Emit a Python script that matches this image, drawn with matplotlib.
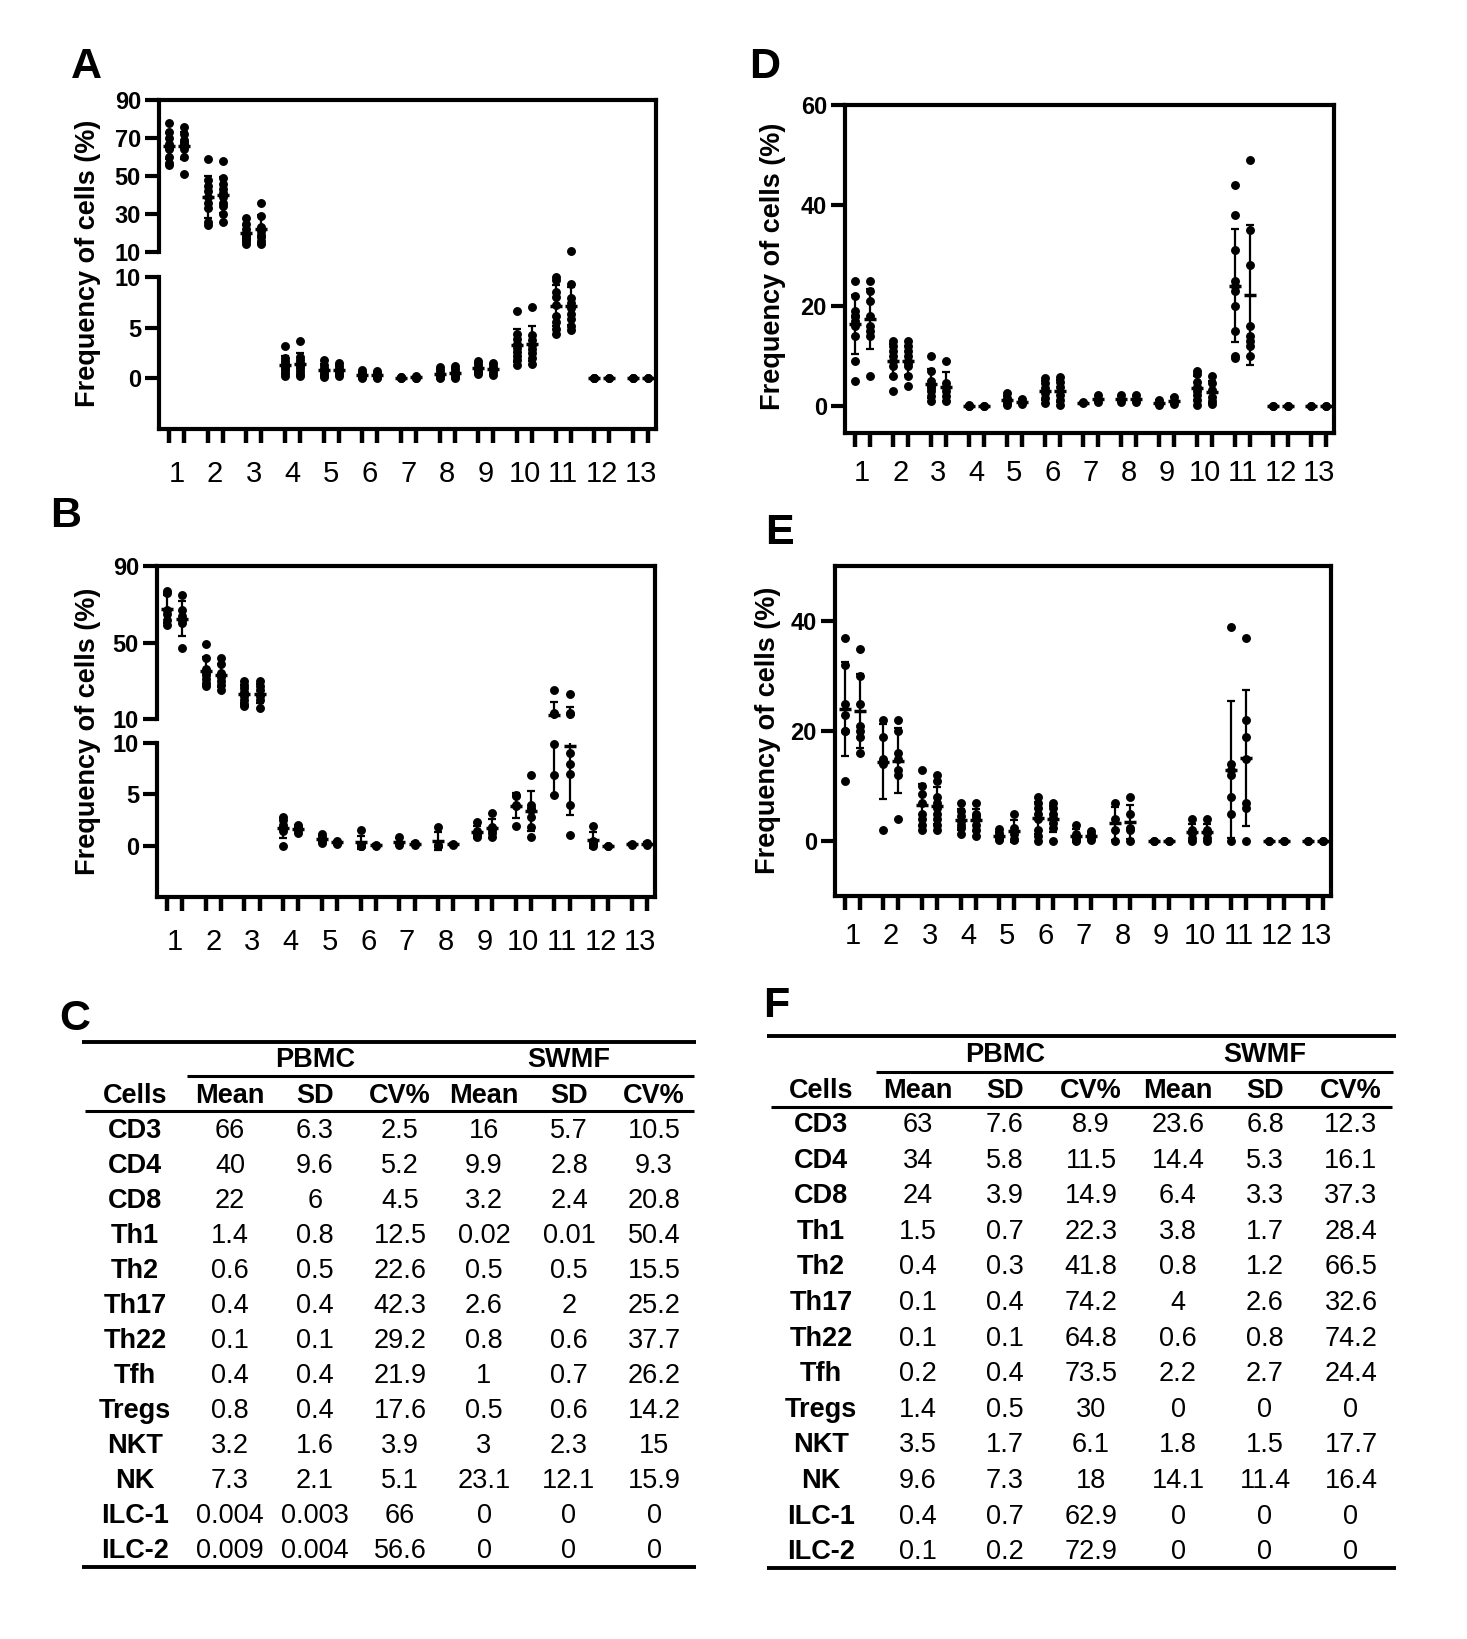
import numpy as np
import matplotlib
matplotlib.use("Agg")
import matplotlib.pyplot as plt

plt.rcParams['font.family'] = ['Liberation Sans', 'DejaVu Sans']

W, H = 1467, 1639

groups = list(range(1, 14))

# ---- panel A : two columns per population (values in %) ----
a_left = [
    [78, 73, 70, 67, 66, 65, 64, 60, 57, 56],
    [59, 48, 45, 42, 39, 36, 33, 26, 24],
    [28, 25, 22, 20, 19, 18, 17, 16, 14],
    [3.2, 2.0, 1.7, 1.4, 1.2, 1.0, 0.8, 0.5, 0.2],
    [1.8, 1.3, 1.0, 0.8, 0.5, 0.3, 0.1],
    [0.8, 0.6, 0.4, 0.2, 0.1, 0.05],
    [0.15, 0.1, 0.05, 0.02],
    [1.1, 0.8, 0.5, 0.3, 0.1, 0.05],
    [1.7, 1.4, 1.1, 0.8, 0.6, 0.4],
    [6.6, 4.4, 3.9, 3.4, 3.0, 2.6, 2.2, 1.8, 1.3],
    [10.0, 9.7, 8.5, 8.0, 7.2, 6.2, 5.6, 4.9, 4.4],
    [0.02, 0.01, 0.0],
    [0.02, 0.01, 0.0],
]
a_right = [
    [76, 72, 69, 68, 67, 66, 64, 60, 51],
    [58, 49, 46, 43, 41, 39, 36, 34, 30, 26],
    [36, 29, 23, 21, 19, 18, 16, 14],
    [3.7, 2.1, 1.8, 1.5, 1.2, 1.0, 0.7, 0.4, 0.2],
    [1.5, 1.2, 0.9, 0.6, 0.4, 0.2],
    [0.7, 0.5, 0.3, 0.1, 0.05],
    [0.2, 0.1, 0.05, 0.02],
    [1.2, 0.9, 0.6, 0.3, 0.1, 0.05],
    [1.5, 1.2, 0.9, 0.6, 0.3],
    [7.0, 4.3, 3.8, 3.3, 2.9, 2.5, 2.0, 1.4],
    [10.5, 9.3, 7.9, 7.4, 6.9, 6.3, 5.9, 5.2, 4.8],
    [0.01, 0.0],
    [0.01, 0.0],
]

# ---- panel B ----
b_left = [
    [77, 76, 67, 65, 62, 59],
    [49, 42, 36, 34, 33, 31, 29, 27],
    [30, 28, 26, 24, 22, 20, 18, 17],
    [2.8, 2.5, 2.0, 1.7, 1.4, 0.0],
    [1.1, 0.8, 0.5, 0.3],
    [1.5, 0.1, 0.0, 0.0, 0.0],
    [0.8, 0.3, 0.1],
    [1.8, 0.1, 0.0, 0.0],
    [2.3, 1.4, 1.2, 1.0, 0.8],
    [4.9, 4.8, 4.0, 3.9, 1.9],
    [25, 13, 12.5, 9.9, 6.9, 4.9],
    [1.9, 0.5, 0.3, 0.2, 0.0],
    [0.2, 0.1],
]
b_right = [
    [75, 67, 64, 62, 60, 47],
    [42, 39, 34, 32, 30, 28, 25],
    [30, 27, 25, 22, 20, 16],
    [2.0, 1.8, 1.5, 1.2],
    [0.5, 0.3, 0.2],
    [0.1, 0.0],
    [0.3, 0.1],
    [0.2, 0.1],
    [3.2, 1.8, 1.5, 1.2, 0.8],
    [6.9, 4.0, 3.7, 3.5, 2.8, 1.8, 0.8],
    [23, 13, 12.5, 9, 8, 7, 4, 1],
    [0.0, 0.0],
    [0.3, 0.1],
]

# ---- panel D ----
d_left = [
    [25, 22, 19, 18, 18, 17, 16, 14, 9, 5],
    [13, 12, 11, 10, 9, 8, 6, 3],
    [10, 7, 5, 4, 3.5, 3, 2, 1],
    [0.1, 0.05, 0.0],
    [2.5, 1.5, 1.0, 0.5, 0.2],
    [5.5, 4.5, 3.5, 2.5, 1.5, 0.5],
    [0.8, 0.5],
    [2.1, 1.3, 0.8],
    [1.2, 0.5, 0.2],
    [7, 6.3, 4.8, 3.8, 3, 2.1, 1.1, 0.2],
    [44, 38, 31, 25, 24, 23, 20, 15, 10, 9.5],
    [0.0, 0.0],
    [0.0, 0.0],
]
d_right = [
    [25, 23, 21, 18, 16, 15, 14, 6],
    [13, 12, 11, 10, 9, 8.5, 8, 6, 4],
    [9, 4.5, 3.7, 3, 2, 1],
    [0.05, 0.0],
    [1.3, 0.8, 0.3],
    [5.8, 4.8, 3.8, 2.1, 1.1, 0.1],
    [2.1, 1.3, 0.8],
    [2.1, 1.3, 0.8],
    [1.8, 1.0, 0.4],
    [6, 4.5, 3.1, 1.8, 1, 0.3],
    [49, 35, 28, 16, 14, 13, 12, 10],
    [0.0, 0.0],
    [0.0, 0.0],
]

# ---- panel E ----
e_left = [
    [37, 32, 25, 23, 20, 20, 11],
    [22, 19, 15, 14.5, 14, 2],
    [13, 10, 8.5, 7, 5, 4, 3, 2],
    [7, 5.5, 4.5, 3.6, 3, 2.4, 1.2],
    [2.1, 1.5, 1.0, 0.6, 0.3, 0.1],
    [8, 7, 6, 5, 4, 2, 1, 0.0],
    [2.9, 1.2, 0.6, 0.2, 0.0],
    [7, 4, 2, 0],
    [0, 0],
    [4, 2, 1.5, 0.5, 0],
    [39, 14, 13, 12, 8, 5, 0],
    [0, 0],
    [0, 0],
]
e_right = [
    [35, 30, 25, 21, 20, 19, 16],
    [22, 20, 16, 15, 13, 12, 4],
    [12, 11, 8, 7, 6, 5, 4, 3, 2],
    [7, 5, 4.5, 4, 3, 2, 1],
    [5, 2.4, 1.2, 0.3, 0.1],
    [7, 6, 5, 4.2, 3.3, 2.4, 0],
    [1.9, 1.2, 0.6, 0.2],
    [8, 5, 2.4, 2, 0],
    [0, 0],
    [4, 2, 1.5, 0.5, 0],
    [37, 22, 19, 15, 7, 6, 0],
    [0, 0],
    [0, 0],
]

# ---- tables C and F ----
cells = ["CD3", "CD4", "CD8", "Th1", "Th2", "Th17", "Th22", "Tfh", "Tregs",
         "NKT", "NK", "ILC-1", "ILC-2"]
col_heads = ["Cells", "Mean", "SD", "CV%", "Mean", "SD", "CV%"]

c_pbmc_mean = ["66", "40", "22", "1.4", "0.6", "0.4", "0.1", "0.4", "0.8", "3.2", "7.3", "0.004", "0.009"]
c_pbmc_sd = ["6.3", "9.6", "6", "0.8", "0.5", "0.4", "0.1", "0.4", "0.4", "1.6", "2.1", "0.003", "0.004"]
c_pbmc_cv = ["2.5", "5.2", "4.5", "12.5", "22.6", "42.3", "29.2", "21.9", "17.6", "3.9", "5.1", "66", "56.6"]
c_swmf_mean = ["16", "9.9", "3.2", "0.02", "0.5", "2.6", "0.8", "1", "0.5", "3", "23.1", "0", "0"]
c_swmf_sd = ["5.7", "2.8", "2.4", "0.01", "0.5", "2", "0.6", "0.7", "0.6", "2.3", "12.1", "0", "0"]
c_swmf_cv = ["10.5", "9.3", "20.8", "50.4", "15.5", "25.2", "37.7", "26.2", "14.2", "15", "15.9", "0", "0"]

f_pbmc_mean = ["63", "34", "24", "1.5", "0.4", "0.1", "0.1", "0.2", "1.4", "3.5", "9.6", "0.4", "0.1"]
f_pbmc_sd = ["7.6", "5.8", "3.9", "0.7", "0.3", "0.4", "0.1", "0.4", "0.5", "1.7", "7.3", "0.7", "0.2"]
f_pbmc_cv = ["8.9", "11.5", "14.9", "22.3", "41.8", "74.2", "64.8", "73.5", "30", "6.1", "18", "62.9", "72.9"]
f_swmf_mean = ["23.6", "14.4", "6.4", "3.8", "0.8", "4", "0.6", "2.2", "0", "1.8", "14.1", "0", "0"]
f_swmf_sd = ["6.8", "5.3", "3.3", "1.7", "1.2", "2.6", "0.8", "2.7", "0", "1.5", "11.4", "0", "0"]
f_swmf_cv = ["12.3", "16.1", "37.3", "28.4", "66.5", "32.6", "74.2", "24.4", "0", "17.7", "16.4", "0", "0"]

XLIM = (0.55, 13.4)
OFF = 0.195
SPINE_LW = 3
YLABEL = "Frequency of cells (%)"

fig = plt.figure(figsize=(W / 100, H / 100), dpi=100)


def rect(x0, y0, x1, y1):
    """pixel box (top-left origin) -> figure fraction"""
    return [x0 / W, 1 - y1 / H, (x1 - x0) / W, (y1 - y0) / H]


def columns(g):
    return (g - OFF, g + OFF)


def plot_cols(ax, left, right, keep=None):
    ylo, yhi = ax.get_ylim()
    for g, lv, rv in zip(groups, left, right):
        for x, vals in zip(columns(g), (lv, rv)):
            v = np.asarray(vals, float)
            m, sd = v.mean(), v.std(ddof=1)
            # only draw the parts of the error bar that reach into this axis
            if m + sd > ylo + 0.5 and m - sd < yhi:
                ax.errorbar([x], [m], yerr=[sd], fmt='none', ecolor='black',
                            elinewidth=1.6, capsize=3, capthick=1.6, zorder=3)
            if ylo < m < yhi:
                ax.plot([x], [m], marker='_', ms=8, mew=2.5, color='black', zorder=4)
            pts = v if keep is None else v[keep(v)]
            ax.plot(np.full(len(pts), x), pts, 'o', ms=5.4, color='black',
                    zorder=5, clip_on=keep is None)


def style_xaxis(ax, pad):
    ax.set_xlim(*XLIM)
    ax.set_xticks([x for g in groups for x in columns(g)])
    ax.set_xticklabels([])
    ax.set_xticks(groups, [str(g) for g in groups], minor=True, fontsize=21)
    ax.tick_params(axis='x', which='major', length=10, width=3.2, direction='out')
    ax.tick_params(axis='x', which='minor', length=0, pad=pad)


def style_yaxis(ax, lim, ticks):
    ax.set_ylim(*lim)
    ax.set_yticks(ticks)
    ax.tick_params(axis='y', length=10, width=3, pad=3, labelsize=17)
    for t in ax.get_yticklabels():
        t.set_fontweight('bold')


def simple_panel(box, left, right, lim, ticks):
    ax = fig.add_axes(rect(*box))
    for s in ax.spines.values():
        s.set_linewidth(SPINE_LW)
    style_xaxis(ax, 19)
    style_yaxis(ax, lim, ticks)
    plot_cols(ax, left, right)
    return ax


def broken_panel(box, split, left, right, hi_ticks, lo_ticks):
    x0, y0, x1, y1 = box
    s_hi, s_lo = split
    frame = fig.add_axes(rect(*box))
    frame.set_ylim(0, 1)
    frame.set_yticks([])
    frame.spines['left'].set_visible(False)
    for s in ('top', 'right', 'bottom'):
        frame.spines[s].set_linewidth(SPINE_LW)
    style_xaxis(frame, 22)

    hi = fig.add_axes(rect(x0, y0, x1, s_hi))
    lo = fig.add_axes(rect(x0, s_lo, x1, y1))
    for ax, lim, ticks in ((hi, (10, 90), hi_ticks), (lo, (-5, 10), lo_ticks)):
        ax.patch.set_visible(False)
        ax.set_xlim(*XLIM)
        for s in ('top', 'right', 'bottom'):
            ax.spines[s].set_visible(False)
        ax.spines['left'].set_linewidth(SPINE_LW)
        ax.tick_params(axis='x', which='both', bottom=False, labelbottom=False)
        style_yaxis(ax, lim, ticks)
    plot_cols(hi, left, right, keep=lambda v: v > 10)
    plot_cols(lo, left, right, keep=lambda v: v <= 10)
    return frame


# overlay in pixel coordinates for letters, axis titles and tables
ov = fig.add_axes([0, 0, 1, 1])
ov.set_xlim(0, W)
ov.set_ylim(H, 0)
ov.axis('off')

broken_panel((159, 100, 656, 429), (252, 277), a_left, a_right,
             [10, 30, 50, 70, 90], [0, 5, 10])
broken_panel((157, 566, 655, 897), (719, 743), b_left, b_right,
             [10, 50, 90], [0, 5, 10])
simple_panel((845, 105, 1334, 433), d_left, d_right, (-5.4, 60), [0, 20, 40, 60])
simple_panel((835, 566, 1331, 896), e_left, e_right, (-10, 50), [0, 20, 40])

for x, y in ((88, 263), (88, 731), (773, 266), (768, 730)):
    ov.text(x, y, YLABEL, rotation=90, ha='center', va='center',
            fontsize=19.5, fontweight='bold')

for letter, x, y in (("A", 86, 67), ("B", 66, 516), ("D", 765, 67),
                     ("E", 779, 533), ("C", 75, 1019), ("F", 776, 1006)):
    ov.text(x, y, letter, ha='center', va='center', fontsize=31, fontweight='bold')


def draw_table(xs, y_group, y_head, y_row0, dy, rules, values):
    ov.text(xs[2], y_group, "PBMC", ha='center', va='center', fontsize=19.5, fontweight='bold')
    ov.text(xs[5], y_group, "SWMF", ha='center', va='center', fontsize=19.5, fontweight='bold')
    for x, h in zip(xs, col_heads):
        ov.text(x, y_head, h, ha='center', va='center', fontsize=19.5, fontweight='bold')
    for i, name in enumerate(cells):
        y = y_row0 + i * dy
        ov.text(xs[0], y, name, ha='center', va='center', fontsize=19.5, fontweight='bold')
        for x, col in zip(xs[1:], values):
            ov.text(x, y, col[i], ha='center', va='center', fontsize=19.5)
    for xa, xb, y, lw in rules:
        ov.plot([xa, xb], [y, y], color='black', lw=lw, solid_capstyle='butt')


draw_table([135, 230, 315, 400, 484, 569, 654], 1060, 1096, 1131, 35.0,
           [(82, 696, 1042, 2.8), (187, 694, 1076, 2.2), (85, 694, 1111, 2.2),
            (82, 696, 1567, 2.8)],
           [c_pbmc_mean, c_pbmc_sd, c_pbmc_cv, c_swmf_mean, c_swmf_sd, c_swmf_cv])

draw_table([821, 918, 1005, 1091, 1178, 1265, 1351], 1055, 1091, 1125, 35.6,
           [(767, 1396, 1036, 2.8), (876, 1393, 1072, 2.2), (771, 1392, 1107, 2.2),
            (767, 1396, 1568, 2.8)],
           [f_pbmc_mean, f_pbmc_sd, f_pbmc_cv, f_swmf_mean, f_swmf_sd, f_swmf_cv])

fig.savefig("out.png", dpi=100)
